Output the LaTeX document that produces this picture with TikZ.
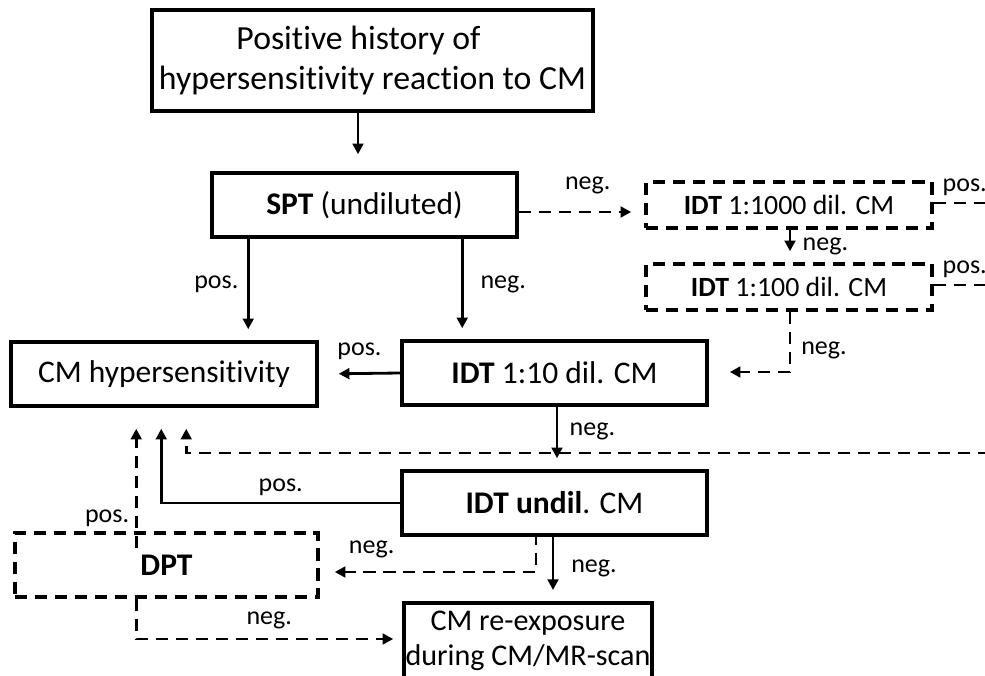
\documentclass[tikz,border=0pt]{standalone}
\usepackage{fontspec}
\setmainfont{Carlito}[Ligatures=NoCommon]
\usepackage{tikz}
\usetikzlibrary{arrows.meta,positioning,calc}
\newlength{\pxl}
\setlength{\pxl}{0.0125cm}
\begin{document}
\begin{tikzpicture}[
  x=0.0125cm, y=-0.0125cm,
  box/.style={draw, line width=1.25pt, inner sep=1pt, align=center,
              minimum width=305\pxl, minimum height=64\pxl,
              font=\fontsize{11.2}{13.4}\selectfont},
  dbox/.style={box, dash pattern=on 4.3pt off 2.8pt},
  arr/.style={-{Triangle[length=3.8pt,width=3.8pt]}, line width=1pt, shorten >=11\pxl},
  darr/.style={arr, dash pattern=on 4.3pt off 2.8pt},
  dline/.style={line width=1pt, dash pattern=on 4.3pt off 2.8pt},
  lbl/.style={inner sep=0pt, font=\fontsize{9.25}{11}\selectfont}
]
\useasboundingbox (0,0) rectangle (985,676);
\clip (0,0) rectangle (985,676);

% boxes
\node[box, minimum width=441\pxl, minimum height=101\pxl,
      font=\fontsize{12}{14.2}\selectfont] (hist) at (372.5,60.5)
     {Positive history of\hspace*{10pt}\\hypersensitivity reaction to CM};
\node[box] (spt) at (364.5,205) {\textbf{SPT} (undiluted)};
\node[dbox, minimum width=286\pxl, minimum height=46\pxl,
      font=\fontsize{9.9}{12}\selectfont] (idtA) at (789,205) {\textbf{IDT} 1:1000 dil. CM};
\node[dbox, minimum width=286\pxl, minimum height=46\pxl,
      font=\fontsize{9.9}{12}\selectfont] (idtB) at (789,287) {\textbf{IDT} 1:100 dil. CM};
\node[box, minimum width=306\pxl] (hyp) at (164,374) {CM hypersensitivity};
\node[box] (idt10) at (554.5,373) {\textbf{IDT} 1:10 dil. CM};
\node[box] (undil) at (554.5,503) {\textbf{IDT undil}. CM};
\node[dbox, minimum width=303\pxl] (dpt) at (166.5,565) {\textbf{DPT}};
\node[box, anchor=north, minimum width=248\pxl, inner xsep=0pt, inner ysep=3pt,
      font=\fontsize{10.7}{12.4}\selectfont] (reexp) at (528,601)
     {CM re-exposure\\during CM/MR-scan\rule[-30pt]{0pt}{0pt}};

\coordinate (offA) at (990,203);
\coordinate (offB) at (990,285);
\coordinate (offC) at (990,453);

% connectors
\draw[arr, shorten >=17\pxl] ($(hist.south)+(-14.5,0)$) -- ($(spt.north)+(-6.5,0)$);
\draw[arr] ($(spt.south west)+(38,0)$) -- node[lbl, left=3pt, pos=0.45] {pos.} ($(hyp.north west)+(239,0)$);
\draw[arr] ($(spt.south west)+(252,0)$) -- node[lbl, right=6pt, pos=0.45] {neg.} ($(idt10.north west)+(62,0)$);
\draw[darr, shorten >=13\pxl] ($(spt.east)+(0,7)$) -- node[lbl, above=6pt, pos=0.55] {neg.} ($(idtA.west)+(0,7)$);
\draw[arr] ($(idtA.south)+(1,0)$) -- node[lbl, right=4pt] {neg.} ($(idtB.north)+(1,0)$);
\draw[dline] ($(idtA.east)+(0,-2)$) -- node[lbl, above=2pt, pos=0.55] {pos.} (offA);
\draw[dline] ($(idtB.east)+(0,-2)$) -- node[lbl, above=2pt, pos=0.55] {pos.} (offB);
\draw[darr, shorten >=21\pxl] ($(idtB.south)+(1,0)$) |- node[lbl, right=3.5pt, pos=0.32] {neg.} ($(idt10.east)+(0,-1)$);
\draw[arr, shorten >=20\pxl] (idt10.west) -- node[lbl, above=4.5pt] {pos.} (hyp.east);
\draw[arr] ($(idt10.south)+(2.5,0)$) -- node[lbl, right=4pt, pos=0.4] {neg.} ($(undil.north)+(2.5,0)$);
\draw[darr, shorten >=21\pxl] (offC) -| ($(hyp.south west)+(177,0)$);
\draw[arr, shorten >=21\pxl] (undil.west) -| node[lbl, above=2pt, pos=0.25] {pos.} ($(hyp.south west)+(152,0)$);
\draw[darr, shorten >=21\pxl] ($(dpt.north west)+(123,17)$) -- node[lbl, left=2pt, pos=0.21] {pos.} ($(hyp.south west)+(127,0)$);
\draw[arr] ($(undil.south)+(-1.5,0)$) -- node[lbl, right=6pt] {neg.} ($(reexp.north)+(25,0)$);
\draw[darr, shorten >=15\pxl] ($(undil.south)+(-18.5,-4)$) |- node[lbl, above=4.5pt, pos=0.88] {neg.} ($(dpt.east)+(0,7)$);
\draw[darr, shorten >=9\pxl] ($(dpt.south west)+(123,0)$) |- node[lbl, above=3pt, pos=0.75] {neg.} ($(reexp.north west)+(0,38)$);
\end{tikzpicture}
\end{document}
